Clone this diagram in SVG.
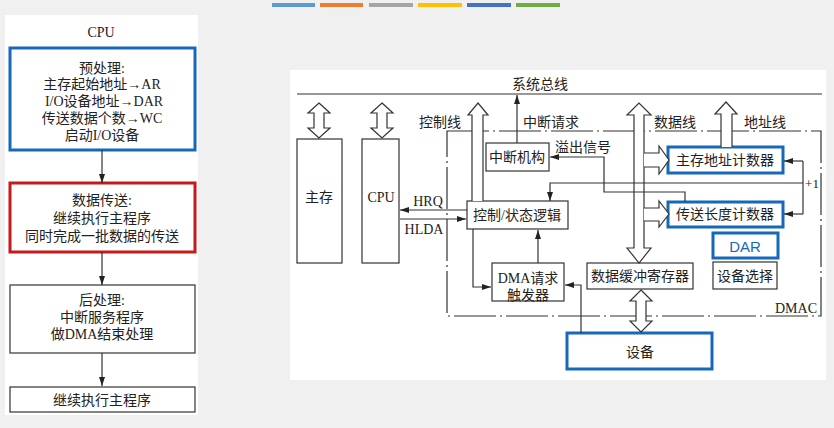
<svg xmlns="http://www.w3.org/2000/svg" width="834" height="428" viewBox="0 0 834 428">
<defs>
<marker id="ah" markerUnits="userSpaceOnUse" markerWidth="9" markerHeight="6" refX="9" refY="3" orient="auto">
<path d="M0,0 L9,3 L0,6 z" fill="#222"/>
</marker>
<style>
text{font-family:"Liberation Serif","Noto Sans CJK SC",serif;font-size:14px;fill:#222;text-anchor:middle;dominant-baseline:central}
.ln{fill:none;stroke:#333;stroke-width:1.2}
.box{fill:#fff;stroke:#333;stroke-width:1.2}
.blue{fill:#fff;stroke:#1668b8;stroke-width:3}
.red{fill:#fff;stroke:#c41a1a;stroke-width:3}
.hol{fill:#fff;stroke:#333;stroke-width:1.2}
.dd{fill:none;stroke:#333;stroke-width:1.2;stroke-dasharray:42 4 2 4}
.bar{stroke:none}
</style>
</defs>
<rect x="0" y="0" width="834" height="428" fill="#f0f0f0"/>
<g id="bars">
<rect class="bar" x="272" y="3" width="43" height="4" fill="#5b9bd5"/>
<rect class="bar" x="320" y="3" width="43" height="4" fill="#ed7d31"/>
<rect class="bar" x="369" y="3" width="44" height="4" fill="#a5a5a5"/>
<rect class="bar" x="418" y="3" width="44" height="4" fill="#ffc000"/>
<rect class="bar" x="467" y="3" width="44" height="4" fill="#4472c4"/>
<rect class="bar" x="516" y="3" width="44" height="4" fill="#70ad47"/>
</g>
<rect x="5" y="15" width="193" height="400" fill="#fff"/>
<rect x="290" y="70" width="536" height="310" fill="#fff"/>

<g id="flow-title"><text x="101" y="32">CPU</text></g>
<g id="pre">
<rect class="blue" x="10" y="48" width="185" height="102"/>
<text x="102" y="68">预处理:</text>
<text x="102" y="84">主存起始地址→AR</text>
<text x="104" y="101">I/O设备地址→DAR</text>
<text x="102" y="118">传送数据个数→WC</text>
<text x="102" y="135">启动I/O设备</text>
</g>
<g id="transfer">
<rect class="red" x="10" y="183" width="185" height="69"/>
<text x="102" y="200">数据传送:</text>
<text x="102" y="218">继续执行主程序</text>
<text x="102" y="236">同时完成一批数据的传送</text>
</g>
<g id="post">
<rect class="box" x="10" y="285" width="185" height="68"/>
<text x="102" y="300">后处理:</text>
<text x="102" y="317">中断服务程序</text>
<text x="102" y="334">做DMA结束处理</text>
</g>
<g id="cont">
<rect class="box" x="10" y="387" width="185" height="25"/>
<text x="102" y="400">继续执行主程序</text>
</g>

<g id="bus">
<line class="ln" x1="297" y1="94" x2="822" y2="94"/>
<text x="540" y="84">系统总线</text>
</g>
<g id="dmac">
<rect class="dd" x="447" y="131" width="374" height="185"/>
<text x="796" y="308">DMAC</text>
</g>
<g id="mem">
<rect class="box" x="297" y="139" width="45" height="124"/>
<text x="319" y="197">主存</text>
</g>
<g id="cpu">
<rect class="box" x="362" y="139" width="37" height="124"/>
<text x="381" y="197">CPU</text>
</g>
<g id="intr">
<rect class="box" x="486" y="143" width="63" height="28"/>
<text x="517" y="157">中断机构</text>
</g>
<g id="ctrl">
<rect class="box" x="467" y="201" width="101" height="28"/>
<text x="517" y="215">控制/状态逻辑</text>
</g>
<g id="dmareq">
<rect class="box" x="492" y="263" width="72" height="38"/>
<text x="528" y="278">DMA请求</text>
<text x="528" y="295">触发器</text>
</g>
<g id="buf">
<rect class="box" x="587" y="263" width="106" height="26"/>
<text x="640" y="276">数据缓冲寄存器</text>
</g>
<g id="sel">
<rect class="box" x="713" y="262" width="64" height="27"/>
<text x="745" y="276">设备选择</text>
</g>
<g id="dar">
<rect class="blue" x="713" y="233" width="65" height="25"/>
<text x="745" y="246" style="font-family:'Liberation Sans','Noto Sans CJK SC',sans-serif;fill:#1668b8;font-size:15px">DAR</text>
</g>
<g id="mar">
<rect class="blue" x="668" y="147" width="115" height="26"/>
<text x="725" y="160">主存地址计数器</text>
</g>
<g id="wc">
<rect class="blue" x="668" y="202" width="115" height="25"/>
<text x="725" y="214">传送长度计数器</text>
</g>
<g id="dev">
<rect class="blue" x="567" y="333" width="145" height="36"/>
<text x="640" y="352">设备</text>
</g>

<g id="connectors">
<line class="ln" x1="102" y1="150" x2="102" y2="183" marker-end="url(#ah)"/>
<line class="ln" x1="102" y1="252" x2="102" y2="285" marker-end="url(#ah)"/>
<line class="ln" x1="102" y1="353" x2="102" y2="386" marker-end="url(#ah)"/>
<path class="hol" d="M319,103 L330,113 L324,113 L324,128 L330,128 L319,138 L308,128 L314,128 L314,113 L308,113 Z"/>
<path class="hol" d="M382,103 L393,113 L387,113 L387,128 L393,128 L382,138 L371,128 L377,128 L377,113 L371,113 Z"/>
<path class="hol" d="M641,290 L652,301 L646,301 L646,321 L652,321 L641,332 L630,321 L636,321 L636,301 L630,301 Z"/>
<path class="hol" d="M472,201 L472,115 L468,115 L478,103 L488,115 L483,115 L483,201"/>
<text x="440" y="122">控制线</text>
<path class="hol" d="M634,115 L627,115 L639,103 L651,115 L644,115 L644,248 L651,248 L639,263 L627,248 L634,248 Z"/>
<text x="675" y="122">数据线</text>
<path class="hol" d="M721,147 L721,114 L715,114 L726,102 L737,114 L732,114 L732,147"/>
<text x="765" y="122">地址线</text>
<path class="hol" d="M644,153 L659,153 L659,146 L669,160 L659,174 L659,167 L644,167"/>
<path class="hol" d="M644,208 L659,208 L659,201 L669,214 L659,227 L659,221 L644,221"/>
<line class="ln" x1="517" y1="143" x2="517" y2="95" marker-end="url(#ah)"/>
<text x="551" y="122">中断请求</text>
<polyline class="ln" points="685,202 685,192 604,192 604,157 550,157" marker-end="url(#ah)"/>
<text x="583" y="147">溢出信号</text>
<polyline class="ln" points="803,183 550,183 550,201" marker-end="url(#ah)"/>
<line class="ln" x1="803" y1="161" x2="803" y2="214"/>
<line class="ln" x1="803" y1="161" x2="784" y2="161" marker-end="url(#ah)"/>
<line class="ln" x1="803" y1="214" x2="784" y2="214" marker-end="url(#ah)"/>
<text x="812" y="183" style="font-size:13px">+1</text>
<line class="ln" x1="467" y1="210" x2="400" y2="210" marker-end="url(#ah)"/>
<text x="428" y="201">HRQ</text>
<line class="ln" x1="400" y1="219" x2="466" y2="219" marker-end="url(#ah)"/>
<text x="424" y="229">HLDA</text>
<polyline class="ln" points="473,229 473,287 491,287" marker-end="url(#ah)"/>
<line class="ln" x1="538" y1="263" x2="538" y2="230" marker-end="url(#ah)"/>
<polyline class="ln" points="581,333 581,285 565,285" marker-end="url(#ah)"/>
</g>
</svg>
